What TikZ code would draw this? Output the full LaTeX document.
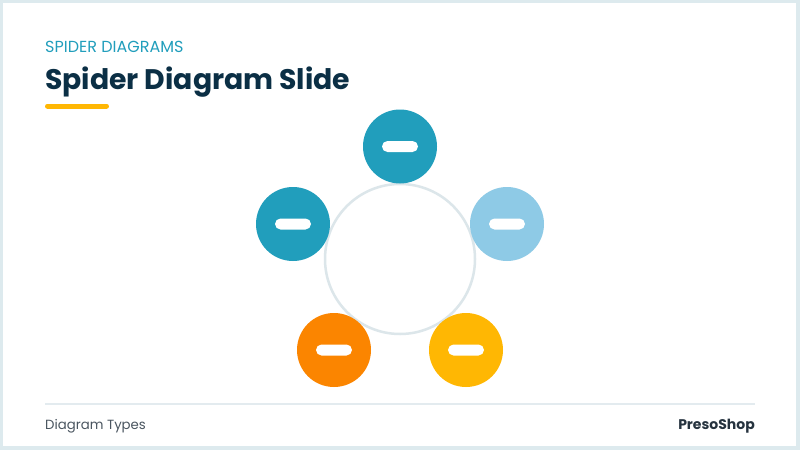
\documentclass[tikz,border=0pt]{standalone}
\usepackage{fontspec}
\setmainfont{Poppins}
\usetikzlibrary{positioning}
\definecolor{frame}{HTML}{DDEAEE}
\definecolor{teal}{HTML}{219EBC}
\definecolor{lblue}{HTML}{8ECAE6}
\definecolor{orng}{HTML}{FB8500}
\definecolor{yell}{HTML}{FFB703}
\definecolor{navy}{HTML}{0B2F45}
\definecolor{ring}{HTML}{DCE6EA}
\definecolor{rule}{HTML}{E3EBEF}
\definecolor{foot}{HTML}{4A5560}
\definecolor{footr}{HTML}{26333F}
\tikzset{
  spoke/.style={circle, minimum size=74pt, inner sep=0pt, draw=none},
  pill/.style={rounded corners=5.5pt, fill=white, minimum width=36pt, minimum height=11pt, inner sep=0pt},
}
\begin{document}
\begin{tikzpicture}[x=1pt,y=-1pt]
\useasboundingbox (0,0) rectangle (800,450);
\fill[frame] (0,0) rectangle (800,450);
\fill[white] (3,3) rectangle (796,446);
% header
\node[anchor=base west, inner sep=0pt, text=teal, font=\fontsize{16}{18}\selectfont] (kicker) at (45,52) {SPIDER DIAGRAMS};
\node[anchor=base west, inner sep=0pt, text=navy, font=\fontsize{28.3}{32}\selectfont\bfseries] (title) at (45,89) {Spider Diagram Slide};
\draw[yell, line width=5pt, line cap=round] (47.5,106) -- (106.5,106);
% centre ring
\node[circle, minimum size=150pt, inner sep=0pt, draw=ring, line width=2.5pt] (hub) at (400,259) {};
% spokes
\node[spoke, fill=teal] (top) at (400,146.5) {};
\node[spoke, fill=teal] (left) at (293,224) {};
\node[spoke, fill=lblue] (right) at (507,224) {};
\node[spoke, fill=orng] (bl) at (334,350) {};
\node[spoke, fill=yell] (br) at (466,350) {};
\node[pill] (ptop) at (top) {};
\node[pill] (pleft) at (left) {};
\node[pill] (pright) at (right) {};
\node[pill] (pbl) at (bl) {};
\node[pill] (pbr) at (br) {};
% footer
\coordinate (r1) at (45,404);
\coordinate (r2) at (755,404);
\draw[rule, line width=2pt] (r1) -- (r2);
\node[anchor=base west, inner sep=0pt, text=foot, font=\fontsize{13.3}{15}\selectfont] (ftl) at (45,429) {Diagram Types};
\node[anchor=base east, inner sep=0pt, text=footr, font=\fontsize{14}{16}\selectfont\bfseries] (ftr) at (755,429) {PresoShop};
\end{tikzpicture}
\end{document}
